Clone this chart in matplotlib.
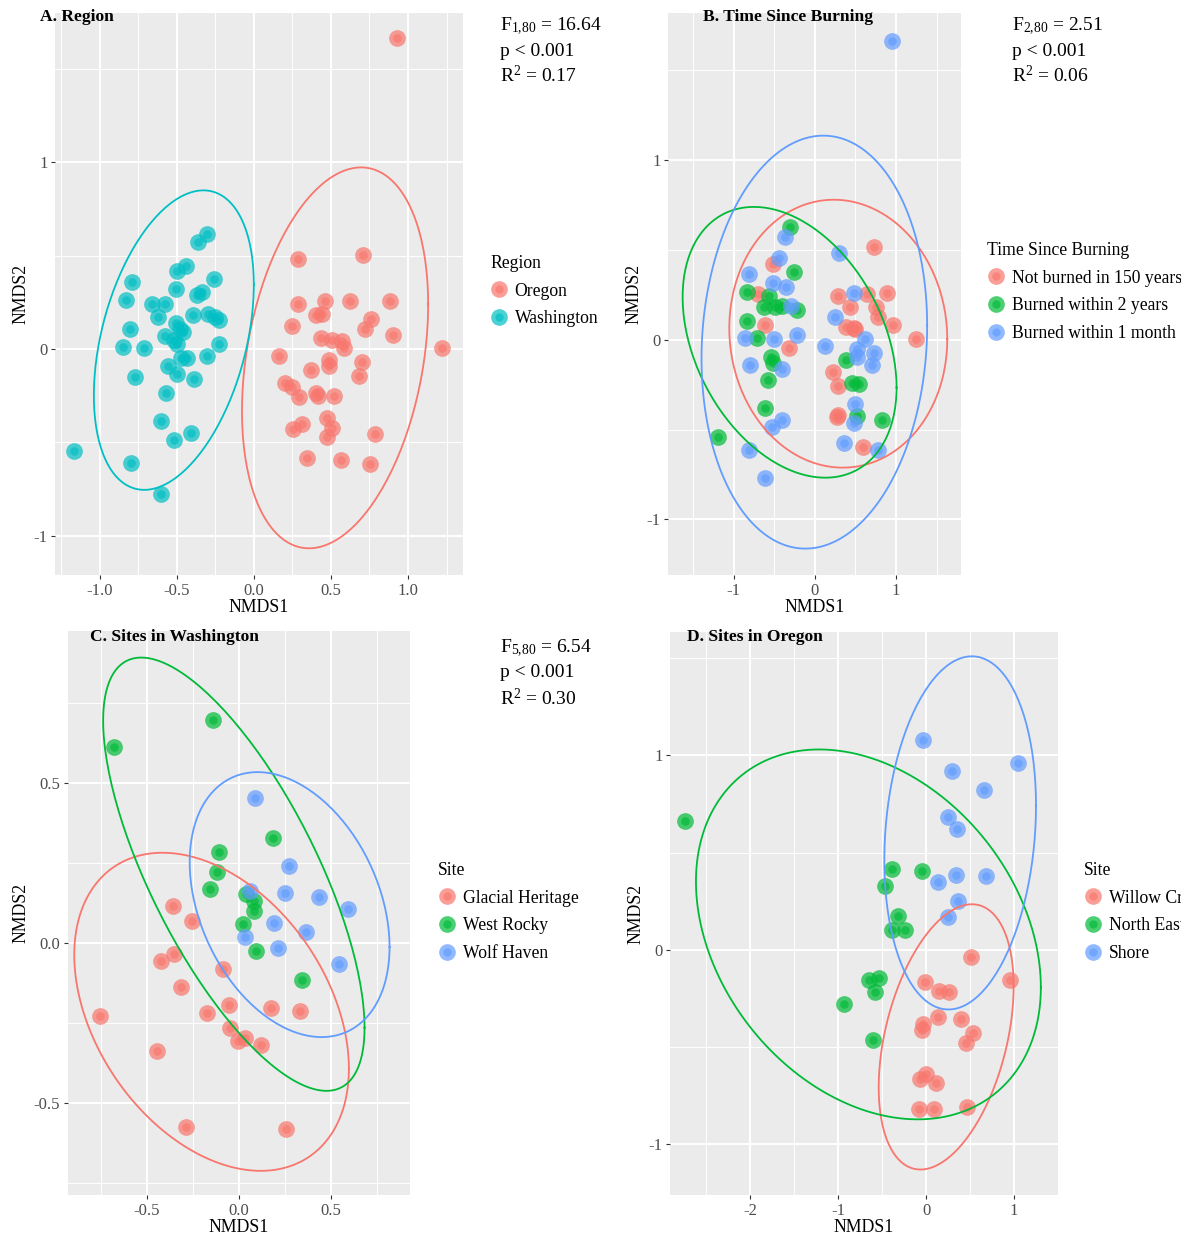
#!/usr/bin/env python3
"""
NMDS ordination plots (4 panels) in a ggplot-like look.
Writes out.png
"""
import numpy as np
import matplotlib
matplotlib.use('Agg')
from matplotlib import pyplot as plt
from matplotlib.lines import Line2D
from matplotlib.ticker import AutoMinorLocator, FixedLocator

RED = '#F8766D'
TEAL = '#00BFC4'
GREEN = '#00BA38'
BLUE = '#619CFF'

# ---- panel A: region ----
a_oregon_x = [0.931, 1.223, 0.708, 0.287, 0.287, 0.46, 0.626, 0.881, 0.757, 0.72, 0.906, 0.25, 0.406,
              0.44, 0.436, 0.51, 0.572, 0.584, 0.163, 0.485, 0.485, 0.703, 0.683, 0.374, 0.2, 0.25,
              0.292, 0.406, 0.418, 0.517, 0.257, 0.312, 0.473, 0.51, 0.473, 0.787, 0.344, 0.567, 0.752]
a_oregon_y = [1.667, 0.004, 0.502, 0.481, 0.242, 0.258, 0.258, 0.258, 0.163, 0.11, 0.078, 0.121, 0.184,
              0.19, 0.057, 0.051, 0.042, 0.004, -0.038, -0.059, -0.091, -0.07, -0.144, -0.112, -0.182, -0.203,
              -0.254, -0.233, -0.25, -0.25, -0.43, -0.403, -0.371, -0.424, -0.472, -0.456, -0.585, -0.593, -0.614]
a_wash_x = [-1.166, -0.795, -0.604, -0.517, -0.406, -0.604, -0.572, -0.772, -0.386, -0.498, -0.559, -0.431,
            -0.307, -0.228, -0.851, -0.713, -0.574, -0.498, -0.48, -0.505, -0.802, -0.621, -0.658, -0.574,
            -0.394, -0.295, -0.25, -0.225, -0.827, -0.79, -0.505, -0.498, -0.438, -0.369, -0.337, -0.257,
            -0.361, -0.307, -0.46, -0.52, -0.47]
a_wash_y = [-0.547, -0.61, -0.775, -0.489, -0.447, -0.383, -0.233, -0.148, -0.161, -0.133, -0.091, -0.049,
            -0.038, 0.025, 0.011, 0.004, 0.072, 0.025, 0.11, 0.142, 0.11, 0.174, 0.242, 0.242,
            0.184, 0.189, 0.17, 0.155, 0.265, 0.36, 0.322, 0.417, 0.445, 0.29, 0.307, 0.375,
            0.572, 0.619, 0.09, 0.05, -0.05]

# ---- panel B: time since burning ----
b_150_x = [0.73, 0.29, 0.638, 0.89, 0.753, 0.776, 0.96, 1.25, 0.38, 0.476, 0.22, 0.29, 0.29, 0.268,
           0.59, -0.517, -0.70, -0.61, -0.32, 0.43, 0.5]
b_150_y = [0.514, 0.245, 0.256, 0.26, 0.18, 0.125, 0.081, 0.004, 0.07, 0.063, -0.18, -0.26, -0.42, -0.43,
           -0.597, 0.42, 0.256, 0.081, -0.046, 0.18, 0.06]
b_2yr_x = [-1.196, -0.31, -0.263, -0.84, -0.84, -0.716, -0.564, -0.494, -0.633, -0.402, -0.217, -0.54,
           -0.517, -0.573, -0.61, 0.383, 0.453, 0.545, 0.522, 0.822]
b_2yr_y = [-0.542, 0.627, 0.376, 0.267, 0.107, 0.009, 0.245, 0.18, 0.18, 0.19, 0.168, -0.094,
           -0.127, -0.225, -0.378, -0.111, -0.243, -0.247, -0.422, -0.448]
b_1mo_x = [0.951, -0.817, -0.61, -0.527, -0.40, -0.794, -0.40, -0.50, -0.217, -0.864, -0.818, -0.448,
           -0.37, -0.517, -0.356, -0.29, 0.291, 0.476, 0.245, 0.129, 0.614, 0.52, 0.73, 0.707, 0.52,
           0.499, 0.476, 0.36, 0.776]
b_1mo_y = [1.666, -0.614, -0.772, -0.487, -0.444, -0.138, -0.16, 0.005, 0.026, 0.009, 0.365, 0.453,
           0.573, 0.317, 0.295, 0.19, 0.481, 0.26, 0.125, -0.033, 0.004, -0.05, -0.072, -0.138, -0.094,
           -0.356, -0.466, -0.575, -0.614]

# ---- panel C: sites in Washington ----
c_glacial_x = [-0.753, -0.447, -0.289, 0.255, -0.357, -0.253, -0.352, -0.426, -0.316, -0.089, -0.173,
               -0.057, -0.051, -0.004, 0.034, 0.118, 0.175, 0.333]
c_glacial_y = [-0.227, -0.339, -0.575, -0.581, 0.116, 0.068, -0.034, -0.056, -0.137, -0.081, -0.22,
               -0.195, -0.265, -0.307, -0.298, -0.319, -0.202, -0.211]
c_rocky_x = [-0.679, -0.141, 0.186, -0.11, -0.12, -0.156, 0.038, 0.084, 0.08, 0.021, 0.091, 0.344]
c_rocky_y = [0.612, 0.696, 0.329, 0.283, 0.221, 0.168, 0.153, 0.13, 0.099, 0.058, -0.025, -0.116]
c_wolf_x = [0.086, 0.274, 0.249, 0.435, 0.591, 0.192, 0.365, 0.213, 0.544, 0.032, 0.059]
c_wolf_y = [0.453, 0.242, 0.155, 0.143, 0.106, 0.062, 0.035, -0.016, -0.066, 0.019, 0.161]

# ---- panel D: sites in Oregon ----
d_willow_x = [0.508, 0.953, -0.008, 0.153, 0.259, 0.14, 0.394, -0.038, -0.051, 0.534, 0.458, -0.072,
              0.004, 0.119, -0.085, 0.089, 0.466]
d_willow_y = [-0.035, -0.153, -0.163, -0.21, -0.218, -0.347, -0.357, -0.382, -0.412, -0.429, -0.48,
              -0.663, -0.639, -0.684, -0.816, -0.816, -0.81]
d_north_x = [-2.742, -0.39, -0.042, -0.462, -0.318, -0.39, -0.242, -0.644, -0.538, -0.58, -0.928, -0.602]
d_north_y = [0.663, 0.418, 0.404, 0.327, 0.173, 0.102, 0.102, -0.153, -0.143, -0.214, -0.28, -0.463]
d_shore_x = [-0.038, 1.042, 0.297, 0.657, 0.246, 0.352, 0.339, 0.678, 0.131, 0.364, 0.246]
d_shore_y = [1.082, 0.959, 0.918, 0.822, 0.684, 0.622, 0.388, 0.382, 0.347, 0.251, 0.169]

# ellipses: center x, center y, half width, half height, x offset of the top point
a_ellipses = [(0.527, -0.047, 0.604, 1.02, 0.169), (-0.519, 0.048, 0.519, 0.802, 0.192)]
b_ellipses = [(0.288, 0.034, 1.343, 0.746, -0.055), (-0.312, -0.014, 1.318, 0.754, -0.44),
              (-0.007, -0.013, 1.39, 1.15, 0.111)]
c_ellipses = [(-0.149, -0.215, 0.746, 0.497, -0.267), (-0.028, 0.215, 0.71, 0.677, -0.503),
              (0.275, 0.12, 0.543, 0.414, -0.174)]
d_ellipses = [(0.229, -0.447, 0.767, 0.682, 0.292), (-0.655, 0.08, 1.96, 0.951, -0.561),
              (0.388, 0.602, 0.862, 0.908, 0.133)]

W, H = 1181, 1241
SERIF = 'Liberation Serif'

plt.rcParams['font.family'] = [SERIF, 'DejaVu Serif']
plt.rcParams['mathtext.fontset'] = 'custom'
plt.rcParams['mathtext.rm'] = SERIF
plt.rcParams['mathtext.it'] = SERIF + ':italic'


def ellipse_xy(cx, cy, hw, hh, dtop):
    cov = np.array([[hw ** 2, dtop * hh], [dtop * hh, hh ** 2]])
    chol = np.linalg.cholesky(cov)
    t = np.linspace(0, 2 * np.pi, 200)
    pts = chol @ np.vstack([np.cos(t), np.sin(t)])
    return cx + pts[0], cy + pts[1]


def make_axes(fig, box, xlim, ylim, xticks, yticks, xlabels, ylabels):
    left, top, right, bottom = box
    ax = fig.add_axes([left / W, 1 - bottom / H, (right - left) / W, (bottom - top) / H])
    ax.set_facecolor('#EBEBEB')
    for s in ax.spines.values():
        s.set_visible(False)
    ax.set_xlim(xlim)
    ax.set_ylim(ylim)
    ax.xaxis.set_major_locator(FixedLocator(xticks))
    ax.yaxis.set_major_locator(FixedLocator(yticks))
    ax.set_xticklabels(xlabels)
    ax.set_yticklabels(ylabels)
    ax.xaxis.set_minor_locator(AutoMinorLocator(2))
    ax.yaxis.set_minor_locator(AutoMinorLocator(2))
    ax.grid(True, which='major', color='white', lw=1.4)
    ax.grid(True, which='minor', color='white', lw=0.7)
    ax.set_axisbelow(True)
    ax.tick_params(which='major', length=3, width=0.8, color='#333333', labelcolor='#4D4D4D',
                   labelsize=12, pad=2.5)
    ax.tick_params(which='minor', length=0)
    ax.set_xlabel('NMDS1', fontsize=12.8, labelpad=0)
    ax.set_ylabel('NMDS2', fontsize=12.8, labelpad=3)
    return ax


def draw_groups(ax, groups, ellipses):
    for x, y, color in groups:
        ax.scatter(x, y, s=145, color=color, alpha=0.7, linewidths=0, zorder=3)
        ax.scatter(x, y, s=38, color=color, alpha=0.65, linewidths=0, zorder=3)
    for (x, y, color), ell in zip(groups, ellipses):
        ex, ey = ellipse_xy(*ell)
        ax.plot(ex, ey, color=color, lw=1.3, zorder=4)


def add_legend(fig, title, labels, colors, x, y):
    handles = []
    for c in colors:
        big = Line2D([], [], ls='', marker='o', ms=12, color=c, alpha=0.7, mew=0)
        small = Line2D([], [], ls='', marker='o', ms=6, color=c, alpha=0.65, mew=0)
        handles.append((big, small))
    leg = fig.legend(handles, labels, title=title, loc='upper left',
                     bbox_to_anchor=(x / W, 1 - y / H), frameon=False, fontsize=12.7,
                     title_fontsize=12.7, alignment='left', handlelength=1.0,
                     handletextpad=0.4, labelspacing=0.6, borderpad=0, borderaxespad=0)
    return leg


def add_stats(fig, lines, x, y):
    for i, s in enumerate(lines):
        fig.text(x / W, 1 - (y + 25 * i) / H, s, fontsize=14, va='center', ha='left')


fig = plt.figure(figsize=(W / 100, H / 100), dpi=100)

# A
ax = make_axes(fig, (55, 13, 463, 575), (-1.29, 1.357), (-1.21, 1.80),
               [-1.0, -0.5, 0.0, 0.5, 1.0], [-1, 0, 1],
               ['-1.0', '-0.5', '0.0', '0.5', '1.0'], ['-1', '0', '1'])
draw_groups(ax, [(a_oregon_x, a_oregon_y, RED), (a_wash_x, a_wash_y, TEAL)], a_ellipses)
fig.text(40 / W, 1 - 17 / H, 'A. Region', fontsize=12.6, fontweight='bold', va='center')
add_legend(fig, 'Region', ['Oregon', 'Washington'], [RED, TEAL], 490, 255)
add_stats(fig, [r'F$_{\mathrm{1{,}80}}$ = 16.64', 'p < 0.001', r'R$^{\mathrm{2}}$ = 0.17'], 500, 26)

# B
ax = make_axes(fig, (668, 13, 961, 575), (-1.81, 1.80), (-1.31, 1.82),
               [-1, 0, 1], [-1, 0, 1], ['-1', '0', '1'], ['-1', '0', '1'])
draw_groups(ax, [(b_150_x, b_150_y, RED), (b_2yr_x, b_2yr_y, GREEN), (b_1mo_x, b_1mo_y, BLUE)],
            b_ellipses)
fig.text(703 / W, 1 - 17 / H, 'B. Time Since Burning', fontsize=12.6, fontweight='bold', va='center')
add_legend(fig, 'Time Since Burning',
           ['Not burned in 150 years', 'Burned within 2 years', 'Burned within 1 month'],
           [RED, GREEN, BLUE], 987, 242)
add_stats(fig, [r'F$_{\mathrm{2{,}80}}$ = 2.51', 'p < 0.001', r'R$^{\mathrm{2}}$ = 0.06'], 1012, 26)

# C
ax = make_axes(fig, (68, 631, 410, 1195), (-0.929, 0.929), (-0.7875, 0.975),
               [-0.5, 0.0, 0.5], [-0.5, 0.0, 0.5], ['-0.5', '0.0', '0.5'], ['-0.5', '0.0', '0.5'])
draw_groups(ax, [(c_glacial_x, c_glacial_y, RED), (c_rocky_x, c_rocky_y, GREEN),
                 (c_wolf_x, c_wolf_y, BLUE)], c_ellipses)
fig.text(90 / W, 1 - 637 / H, 'C. Sites in Washington', fontsize=12.6, fontweight='bold', va='center')
add_legend(fig, 'Site', ['Glacial Heritage', 'West Rocky', 'Wolf Haven'], [RED, GREEN, BLUE], 438, 862)
add_stats(fig, [r'F$_{\mathrm{5{,}80}}$ = 6.54', 'p < 0.001', r'R$^{\mathrm{2}}$ = 0.30'], 500, 648)

# D
ax = make_axes(fig, (670, 632, 1058, 1195), (-2.91, 1.50), (-1.26, 1.635),
               [-2, -1, 0, 1], [-1, 0, 1], ['-2', '-1', '0', '1'], ['-1', '0', '1'])
draw_groups(ax, [(d_willow_x, d_willow_y, RED), (d_north_x, d_north_y, GREEN),
                 (d_shore_x, d_shore_y, BLUE)], d_ellipses)
fig.text(687 / W, 1 - 637 / H, 'D. Sites in Oregon', fontsize=12.6, fontweight='bold', va='center')
add_legend(fig, 'Site', ['Willow Creek', 'North East', 'Shore'], [RED, GREEN, BLUE], 1084, 862)

fig.savefig('out.png', dpi=100)
plt.close(fig)
